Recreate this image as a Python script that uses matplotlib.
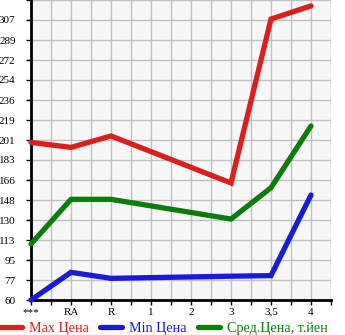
import matplotlib
matplotlib.use("Agg")
import matplotlib.pyplot as plt
import numpy as np

categories = ['***', 'RA', 'R', '1', '2', '3', '3,5', '4']
max_price = [199, 194.6, 204.7, np.nan, np.nan, 163.2, 307.8, 319.4]
min_price = [60, 84.4, 79.1, np.nan, np.nan, 81.0, 81.5, 152.6]
avg_price = [109.4, 148.8, 148.8, np.nan, np.nan, 131.4, 159, 213.5]
ytick_labels = ['60', '77', '95', '113', '130', '148', '166', '183',
                '201', '219', '236', '254', '272', '289', '307']

plt.rcParams['font.family'] = ['Liberation Serif', 'DejaVu Serif']

W, H = 345, 335
fig = plt.figure(figsize=(W / 100, H / 100), dpi=100)
ax = fig.add_axes([31 / W, 35 / H, 300 / W, 300 / H])
ax.set_facecolor('#f7f7f7')

step = 17.64
ax.set_xlim(0, 7.5)
ax.set_ylim(60, 60 + 15 * step)

x = np.arange(len(categories))
series = [(max_price, '#dc1e1e', 'Max Цена'),
          (min_price, '#1a1ad8', 'Min Цена'),
          (avg_price, '#0a7d0a', 'Сред.Цена, т.йен')]
for vals, col, lab in series:
    v = np.array(vals, dtype=float)
    m = ~np.isnan(v)
    ax.plot(x[m], v[m], color=col, lw=3.8, solid_capstyle='round',
            solid_joinstyle='miter', label=lab, clip_on=False, zorder=3)

ax.set_xticks(np.arange(0, 7.51, 0.5))
ax.set_xticklabels([categories[i // 2] if i % 2 == 0 else '' for i in range(16)])
yt = [60 + step * k for k in range(16)]
ax.set_yticks(yt)
ax.set_yticklabels(ytick_labels + [''])
ax.grid(True, color='#c0c0c0', lw=1)
ax.set_axisbelow(True)
ax.tick_params(length=3.6, width=1, labelsize=8, colors='black')
ax.tick_params(axis='y', pad=7.5)
ax.tick_params(axis='x', pad=2)
for s in ['top', 'right']:
    ax.spines[s].set_visible(False)
ax.spines['left'].set_linewidth(2)
ax.spines['bottom'].set_linewidth(2)

fig.legend(loc='lower left', bbox_to_anchor=(0, 0), ncol=3,
           frameon=False, fontsize=10.2, handlelength=1.55,
           handletextpad=0.5, columnspacing=0.8, borderpad=0,
           borderaxespad=0, labelcolor='linecolor')

fig.savefig('out.png', dpi=100)
